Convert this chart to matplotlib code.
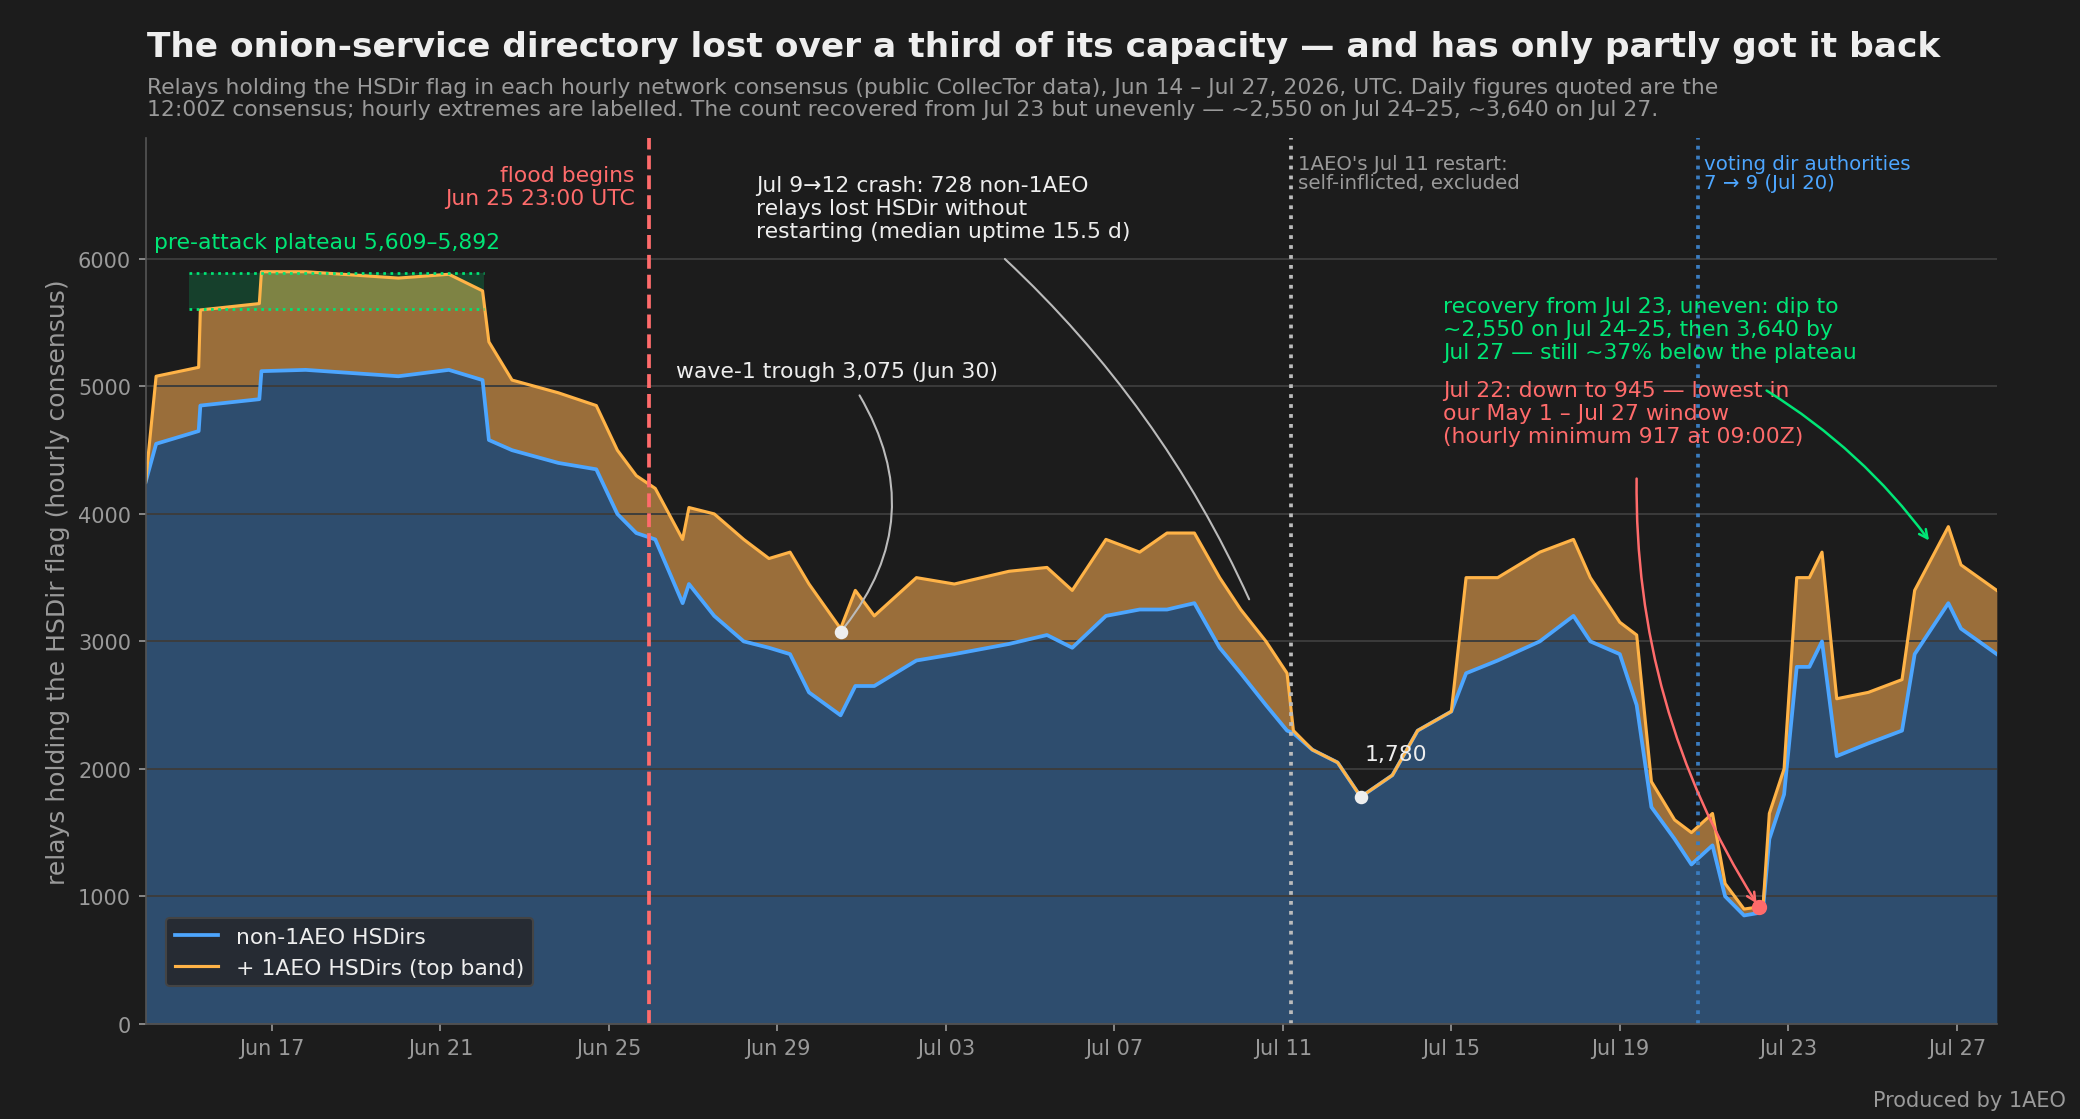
import matplotlib
matplotlib.use("Agg")
import matplotlib.pyplot as plt
import matplotlib.dates as mdates
import numpy as np
from datetime import datetime, timedelta

# ---------------------------------------------------------------------------
# Data: day offset from Jun 14 00:00 UTC
# ---------------------------------------------------------------------------
DAY_OFFSET = [0.0, 0.25, 1.26, 1.3, 2.7, 2.75, 3.8, 6.0, 7.2, 8.0, 8.15, 8.7, 9.8, 10.7,
              11.2, 11.65, 12.1, 12.75, 12.9, 13.5, 14.2, 14.8, 15.3, 15.75, 16.5, 16.85,
              17.3, 18.3, 19.2, 20.5, 21.4, 22.0, 22.8, 23.6, 24.25, 24.9, 25.5, 26.0,
              26.6, 27.1, 27.25, 27.7, 28.3, 28.85, 29.6, 30.2, 31.0, 31.35, 32.1, 33.1,
              33.9, 34.3, 35.0, 35.4, 35.75, 36.3, 36.7, 37.2, 37.5, 37.95, 38.3, 38.4,
              38.55, 38.9, 39.2, 39.5, 39.8, 40.15, 40.9, 41.7, 42.0, 42.8, 43.1, 43.95]
TOTAL_HSDIRS = [4250, 5080, 5150, 5600, 5650, 5900, 5900, 5850, 5880, 5750, 5350, 5050,
                4950, 4850, 4500, 4300, 4200, 3800, 4050, 4000, 3800, 3650, 3700, 3450,
                3100, 3400, 3200, 3500, 3450, 3550, 3580, 3400, 3800, 3700, 3850, 3850,
                3500, 3250, 3000, 2750, 2300, 2150, 2050, 1780, 1950, 2300, 2450, 3500,
                3500, 3700, 3800, 3500, 3150, 3050, 1900, 1600, 1500, 1650, 1100, 900,
                917, 920, 1650, 2000, 3500, 3500, 3700, 2550, 2600, 2700, 3400, 3900,
                3600, 3400]
NON_1AEO_HSDIRS = [4250, 4550, 4650, 4850, 4900, 5120, 5130, 5080, 5130, 5050, 4580, 4500,
                   4400, 4350, 4000, 3850, 3800, 3300, 3450, 3200, 3000, 2950, 2900, 2600,
                   2420, 2650, 2650, 2850, 2900, 2980, 3050, 2950, 3200, 3250, 3250, 3300,
                   2950, 2750, 2500, 2300, 2280, 2150, 2050, 1780, 1950, 2300, 2450, 2750,
                   2850, 3000, 3200, 3000, 2900, 2500, 1700, 1450, 1250, 1400, 1000, 850,
                   870, 900, 1450, 1800, 2800, 2800, 3000, 2100, 2200, 2300, 2900, 3300,
                   3100, 2900]
TICK_DATES = ["2026-06-17", "2026-06-21", "2026-06-25", "2026-06-29", "2026-07-03",
              "2026-07-07", "2026-07-11", "2026-07-15", "2026-07-19", "2026-07-23",
              "2026-07-27"]
PLATEAU = (5609, 5892)
PLATEAU_SPAN = (1.04, 8.03)
FLOOD_START = 11.96
RESTART_1AEO = 27.2
VOTING_CHANGE = 36.85
WAVE1_TROUGH = (16.5, 3075)
JUL13_LOW = (28.85, 1780)
JUL22_MIN = (38.3, 917)

START = datetime(2026, 6, 14)
def to_dt(d):
    return START + timedelta(days=d)

BG = "#1c1c1c"
BLUE = "#4da6ff"
ORANGE = "#ffb347"
GREEN = "#00e676"
RED = "#ff6b6b"
GREY = "#9a9a9a"

x = [to_dt(d) for d in DAY_OFFSET]
total = np.array(TOTAL_HSDIRS)
blue = np.array(NON_1AEO_HSDIRS)

fig = plt.figure(figsize=(20.8 / 1.5, 11.2 / 1.5), dpi=150, facecolor=BG)
ax = fig.add_axes([0.070, 0.085, 0.890, 0.791], facecolor=BG)

ax.fill_between(x, 0, blue, color="#2e4d6e", lw=0)
ax.fill_between(x, blue, total, color="#9a6e3a", lw=0)
ax.plot(x, blue, color=BLUE, lw=1.8, label="non-1AEO HSDirs")
ax.plot(x, total, color=ORANGE, lw=1.5, label="+ 1AEO HSDirs (top band)")

# plateau band
p0, p1 = to_dt(PLATEAU_SPAN[0]), to_dt(PLATEAU_SPAN[1])
ax.fill_between([p0, p1], PLATEAU[0], PLATEAU[1], color=GREEN, alpha=0.18, lw=0)
for v in PLATEAU:
    ax.plot([p0, p1], [v, v], color=GREEN, ls=":", lw=1.3)
ax.text(to_dt(0.2), 6130, "pre-attack plateau 5,609–5,892", color=GREEN,
        fontsize=10.5, va="center")

# vertical markers
ax.axvline(to_dt(FLOOD_START), color=RED, ls="--", lw=1.8)
ax.axvline(to_dt(RESTART_1AEO), color="#bbbbbb", ls=":", lw=1.8)
ax.axvline(to_dt(VOTING_CHANGE), color="#3a7cc0", ls=":", lw=1.8)
ax.text(to_dt(FLOOD_START - 0.35), 6740, "flood begins\nJun 25 23:00 UTC", color=RED,
        fontsize=10.5, ha="right", va="top")
ax.text(to_dt(RESTART_1AEO + 0.15), 6820, "1AEO's Jul 11 restart:\nself-inflicted, excluded",
        color=GREY, fontsize=9.5, va="top", linespacing=1.0)
ax.text(to_dt(VOTING_CHANGE + 0.15), 6820, "voting dir authorities\n7 → 9 (Jul 20)",
        color=BLUE, fontsize=9.5, va="top", linespacing=1.0)

# point labels
ax.scatter([to_dt(WAVE1_TROUGH[0]), to_dt(JUL13_LOW[0])], [WAVE1_TROUGH[1], JUL13_LOW[1]],
           color="#eeeeee", s=30, zorder=5)
ax.scatter([to_dt(JUL22_MIN[0])], [JUL22_MIN[1]], color=RED, s=40, zorder=5)
ax.text(to_dt(JUL13_LOW[0] + 0.1), 2070, "1,780", color="#eeeeee", fontsize=10.5)

ax.text(to_dt(12.6), 5120, "wave-1 trough 3,075 (Jun 30)", color="#eeeeee",
        fontsize=10.5, va="center")
ax.annotate("", xy=(to_dt(WAVE1_TROUGH[0]), WAVE1_TROUGH[1]), xytext=(to_dt(16.95), 4930),
            arrowprops=dict(arrowstyle="-", color="#bbbbbb", lw=1,
                            connectionstyle="arc3,rad=-0.35", shrinkA=0, shrinkB=3))
ax.text(to_dt(14.5), 6660, "Jul 9→12 crash: 728 non-1AEO\nrelays lost HSDir without\n"
        "restarting (median uptime 15.5 d)", color="#eeeeee", fontsize=10.5, va="top")
ax.annotate("", xy=(to_dt(26.2), 3330), xytext=(to_dt(20.4), 6000),
            arrowprops=dict(arrowstyle="-", color="#bbbbbb", lw=1,
                            connectionstyle="arc3,rad=-0.1", shrinkA=0, shrinkB=0))
ax.text(to_dt(30.8), 5710, "recovery from Jul 23, uneven: dip to\n~2,550 on Jul 24–25, then 3,640 by\n"
        "Jul 27 — still ~37% below the plateau", color=GREEN, fontsize=10.5, va="top")
ax.text(to_dt(30.8), 5050, "Jul 22: down to 945 — lowest in\nour May 1 – Jul 27 window\n"
        "(hourly minimum 917 at 09:00Z)", color=RED, fontsize=10.5, va="top")
ax.annotate("", xy=(to_dt(42.4), 3765), xytext=(to_dt(38.4), 4985),
            arrowprops=dict(arrowstyle="->", color=GREEN, lw=1.2,
                            connectionstyle="arc3,rad=-0.1"))
ax.annotate("", xy=(to_dt(JUL22_MIN[0]), JUL22_MIN[1]), xytext=(to_dt(35.4), 4310),
            arrowprops=dict(arrowstyle="->", color=RED, lw=1.2,
                            connectionstyle="arc3,rad=0.15"))

# axes styling
ax.set_xlim(to_dt(0), to_dt(43.95))
ax.set_ylim(0, 6950)
ax.set_yticks(range(0, 7000, 1000))
ax.set_xticks([datetime.fromisoformat(d) for d in TICK_DATES])
ax.xaxis.set_major_formatter(mdates.DateFormatter("%b %d"))
ax.grid(axis="y", color="#3c3c3c", lw=0.9)
for s in ("top", "right"):
    ax.spines[s].set_visible(False)
for s in ("left", "bottom"):
    ax.spines[s].set_color("#555555")
ax.tick_params(colors=GREY, labelsize=10)
ax.set_ylabel("relays holding the HSDir flag (hourly consensus)", color=GREY, fontsize=12)

leg = ax.legend(loc="lower left", bbox_to_anchor=(0.005, 0.03), fontsize=10.5,
                facecolor="#262b33", edgecolor="#444444", framealpha=1)
for t in leg.get_texts():
    t.set_color("#eeeeee")

fig.text(0.0705, 0.958, "The onion-service directory lost over a third of its capacity — and has only partly got it back",
         color="#eeeeee", fontsize=16.5, fontweight="bold", va="center")
fig.text(0.0705, 0.930, "Relays holding the HSDir flag in each hourly network consensus (public CollecTor data), "
         "Jun 14 – Jul 27, 2026, UTC. Daily figures quoted are the\n12:00Z consensus; hourly extremes are "
         "labelled. The count recovered from Jul 23 but unevenly — ~2,550 on Jul 24–25, ~3,640 on Jul 27.",
         color=GREY, fontsize=10.5, va="top", linespacing=1.1)
fig.text(0.993, 0.008, "Produced by 1AEO", color=GREY, fontsize=10, ha="right", va="bottom")

fig.savefig("out.png", dpi=150, facecolor=BG)
